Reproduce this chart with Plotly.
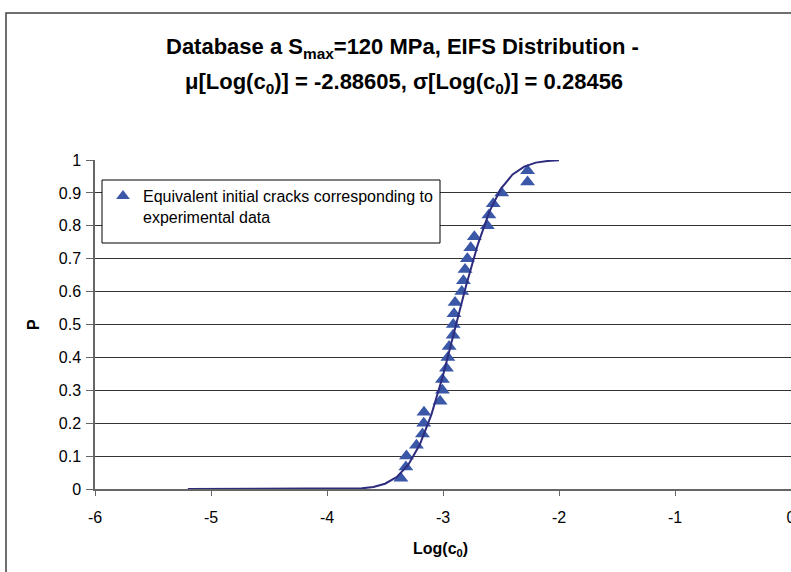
import plotly.graph_objects as go

# Experimental points (equivalent initial cracks): log(c0) and probability
pts_logc0 = [-3.363, -3.320, -3.315, -3.229, -3.177, -3.166, -3.164, -3.025, -3.005, -3.005,
             -2.970, -2.958, -2.947, -2.913, -2.911, -2.905, -2.896, -2.838, -2.824, -2.810,
             -2.790, -2.761, -2.730, -2.618, -2.604, -2.567, -2.494, -2.271, -2.271]
pts_p = [0.033, 0.067, 0.100, 0.133, 0.167, 0.200, 0.233, 0.267, 0.300, 0.333,
         0.367, 0.400, 0.433, 0.467, 0.500, 0.533, 0.567, 0.600, 0.633, 0.667,
         0.700, 0.733, 0.767, 0.800, 0.833, 0.867, 0.900, 0.933, 0.967]

# EIFS distribution curve
curve_logc0 = [-5.2, -4.5, -4.0, -3.9, -3.8, -3.7, -3.6, -3.5, -3.4, -3.3, -3.2, -3.1,
               -3.0, -2.9, -2.8, -2.7, -2.6, -2.5, -2.4, -2.3, -2.2, -2.1, -2.0]
curve_p = [0.0, 0.0, 0.0, 0.0002, 0.0007, 0.002, 0.006, 0.016, 0.036, 0.073, 0.135, 0.226,
           0.345, 0.480, 0.619, 0.743, 0.843, 0.913, 0.956, 0.980, 0.992, 0.997, 0.999]

x_ticks = [-6, -5, -4, -3, -2, -1, 0]
y_ticks = [0, 0.1, 0.2, 0.3, 0.4, 0.5, 0.6, 0.7, 0.8, 0.9, 1]
y_tick_text = ["0", "0.1", "0.2", "0.3", "0.4", "0.5", "0.6", "0.7", "0.8", "0.9", "1"]

title_line1 = "<b>Database a S<sub>max</sub>=120 MPa, EIFS Distribution -</b>"
title_line2 = "<b>μ[Log(c<sub>0</sub>)] = -2.88605, σ[Log(c<sub>0</sub>)] = 0.28456</b>"
x_title = "<b>Log(c<sub>0</sub>)</b>"
y_title = "<b>P</b>"
legend_name = "Equivalent initial cracks corresponding to<br>experimental data"

FONT = "Liberation Sans, Arial, sans-serif"

# pixel -> paper helpers (plot area: x 95..791, y 160..489)
def px(xp):
    return (xp - 95) / 696.0

def py(yp):
    return (489 - yp) / 329.0

fig = go.Figure()
fig.add_trace(go.Scatter(
    x=pts_logc0, y=pts_p, mode="markers", name=legend_name,
    marker=dict(symbol="triangle-up", size=13, color="#3A57A8"),
    showlegend=True, cliponaxis=False,
))
fig.add_trace(go.Scatter(
    x=curve_logc0, y=curve_p, mode="lines",
    line=dict(color="#2E2C7E", width=2),
    showlegend=False, hoverinfo="skip",
))

fig.update_layout(
    width=791, height=572, autosize=False,
    margin=dict(l=95, r=0, t=160, b=83, autoexpand=False),
    paper_bgcolor="white", plot_bgcolor="white",
    font=dict(family=FONT, size=16, color="black"),
    legend=dict(
        x=px(103), y=py(179), xanchor="left", yanchor="top",
        bgcolor="rgba(0,0,0,0)", borderwidth=0,
        font=dict(family=FONT, size=16, color="black"),
        valign="top", tracegroupgap=0, itemsizing="constant",
    ),
    showlegend=True,
)
fig.update_xaxes(
    range=[-6, 0], tickvals=x_ticks, ticktext=[str(v) for v in x_ticks],
    showgrid=False, zeroline=False, automargin=False,
    showline=True, linecolor="#666666", linewidth=2,
    ticks="outside", ticklen=5, tickcolor="#666666",
    tickfont=dict(size=16, color="black"),
    ticklabelstandoff=8, ticklabeloverflow="allow",
)
fig.update_yaxes(
    range=[0, 1], tickvals=y_ticks, ticktext=y_tick_text,
    showgrid=True, gridcolor="#333333", gridwidth=1, zeroline=False, automargin=False,
    showline=True, linecolor="#666666", linewidth=1.5,
    ticks="outside", ticklen=7, tickcolor="#666666",
    tickfont=dict(size=16, color="black"),
    ticklabelstandoff=2,
)

# Titles as annotations
fig.add_annotation(text=title_line1, xref="paper", yref="paper", x=px(402), y=py(48),
                   showarrow=False, xanchor="center", yanchor="middle",
                   font=dict(family=FONT, size=22, color="black"))
fig.add_annotation(text=title_line2, xref="paper", yref="paper", x=px(404), y=py(83),
                   showarrow=False, xanchor="center", yanchor="middle",
                   font=dict(family=FONT, size=22, color="black"))
fig.add_annotation(text=x_title, xref="paper", yref="paper", x=px(440), y=py(549),
                   showarrow=False, xanchor="center", yanchor="middle",
                   font=dict(family=FONT, size=16, color="black"))
fig.add_annotation(text=y_title, xref="paper", yref="paper", x=px(33), y=py(325),
                   showarrow=False, xanchor="center", yanchor="middle", textangle=-90,
                   font=dict(family=FONT, size=16, color="black"))

# Legend frame
fig.add_shape(type="rect", xref="paper", yref="paper",
              x0=px(102), x1=px(440), y0=py(243), y1=py(180),
              line=dict(color="black", width=1), fillcolor="white", layer="above")
# Outer chart-area frame
fig.add_shape(type="rect", xref="paper", yref="paper",
              x0=px(6), x1=1.05, y0=-0.3, y1=py(13),
              line=dict(color="#404040", width=1.5), fillcolor="rgba(0,0,0,0)", layer="below")

fig.write_html("out.html")
